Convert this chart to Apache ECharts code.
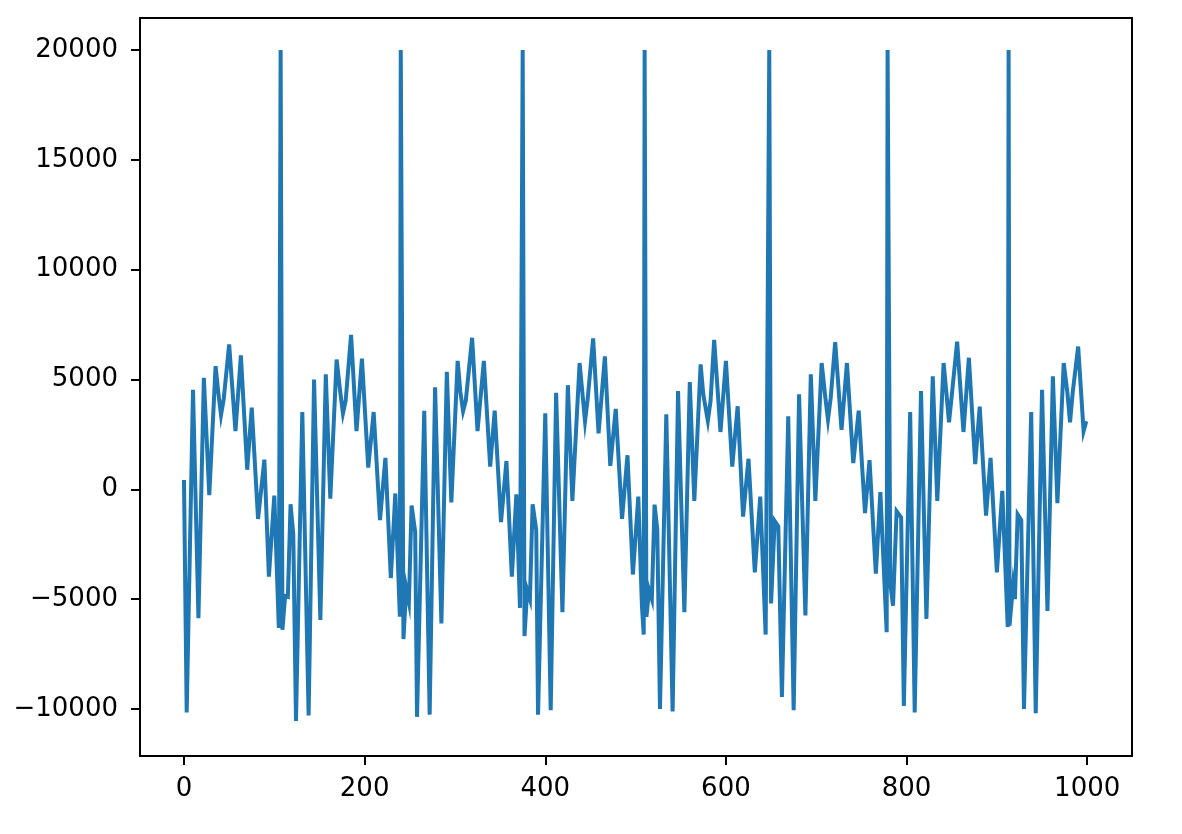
<!DOCTYPE html>
<html>
<head>
<meta charset="utf-8">
<script src="https://cdn.jsdelivr.net/npm/echarts@6/dist/echarts.min.js"></script>
<style>
  html, body { margin: 0; padding: 0; background: #fff; }
  #chart { width: 1182px; height: 834px; }
</style>
</head>
<body>
<div id="chart"></div>
<script>
// sample index and signal value (turning points of the trace)
var sampleX = [
  0, 3, 10, 16, 22, 28, 35, 38, 41, 44, 50, 57, 63, 70, 75, 82, 89, 94, 100, 105, 107, 109, 112, 115, 118, 121,
  124, 131, 138, 144, 151, 157, 162, 169, 173, 176, 179, 185, 191, 197, 204, 210, 217, 223, 229, 234, 239, 240, 241, 243, 246, 249, 252, 256,
  258, 266, 272, 278, 285, 291, 296, 303, 306, 309, 312, 319, 325, 332, 339, 344, 351, 357, 363, 368, 372, 375, 377, 380, 383, 386, 390,
  392, 400, 406, 412, 419, 425, 430, 438, 441, 444, 447, 453, 459, 466, 472, 478, 485, 491, 497, 503, 507, 509, 510, 511, 512, 515, 518, 521, 524,
  527, 534, 541, 547, 554, 560, 565, 572, 575, 580, 583, 587, 594, 600, 607, 613, 619, 625, 632, 638, 644, 648, 650, 654, 658,
  662, 669, 675, 681, 688, 694, 699, 706, 710, 713, 716, 721, 728, 734, 741, 747, 754, 759, 766, 771, 778, 779, 782, 785, 789, 794,
  797, 804, 809, 816, 822, 829, 834, 841, 844, 847, 850, 856, 863, 869, 876, 881, 888, 893, 900, 906, 912, 913, 914, 918, 920, 923, 927,
  930, 938, 943, 950, 956, 962, 967, 974, 978, 981, 984, 990, 996, 999
];
var sampleY = [
  420, -10160, 4530, -5870, 5080, -270, 5610, 4400, 3380, 4110, 6600, 2650, 6100, 890, 3720, -1350, 1350, -3980, -290, -6310, 20000, -6400, -4850, -4890, -680, -2050,
  -10550, 3520, -10300, 5000, -5950, 5240, -430, 5910, 4430, 3460, 4030, 7030, 2650, 5950, 990, 3520, -1400, 1430, -4040, -190, -5800, 20000, 20000, -6820, -4490, -5140, -740, -1950,
  -10360, 3580, -10260, 4640, -6110, 5350, -600, 5850, 4430, 3560, 4030, 6900, 2650, 5850, 1030, 3580, -1490, 1290, -3980, -230, -5400, 20000, -6680, -4590, -5000, -680, -1850,
  -10260, 3460, -10060, 4390, -5600, 4740, -530, 5750, 4430, 3100, 4130, 6870, 2550, 6050, 1070, 3660, -1350, 1550, -3880, -330, -5300, -6615, 20000, 20000, -5800, -4590, -5000, -700, -1810,
  -10000, 3420, -10120, 4470, -5600, 4880, -530, 5690, 4300, 3115, 4030, 6800, 2610, 5850, 1030, 3780, -1240, 1390, -3780, -330, -6615, 20000, -5200, -1445, -1690,
  -9450, 3320, -10060, 4330, -5740, 5240, -530, 5750, 4200, 3180, 4150, 6700, 2710, 5750, 1190, 3580, -1080, 1330, -3840, -130, -6510, 20000, -4290, -5300, -1000, -1280,
  -9860, 3520, -10160, 4470, -5900, 5140, -530, 5750, 4450, 3050, 4250, 6720, 2610, 5990, 1150, 3760, -1200, 1430, -3780, -70, -6270, 20000, -6210, -4330, -5000, -1140, -1400,
  -10000, 3520, -10200, 4530, -5540, 5140, -630, 5750, 4430, 3050, 4430, 6500, 2650, 3100
];
var xTicks = [0, 200, 400, 600, 800, 1000];
var yTicks = [-10000, -5000, 0, 5000, 10000, 15000, 20000];

var points = sampleX.map(function (x, i) { return [x, sampleY[i]]; });

var chart = echarts.init(document.getElementById('chart'));
var labelFont = { fontFamily: 'DejaVu Sans', fontSize: 26, color: '#000' };

chart.setOption({
  animation: false,
  backgroundColor: '#fff',
  grid: {
    left: 140, right: 50, top: 18, bottom: 78,
    show: true, borderColor: '#000', borderWidth: 2, backgroundColor: 'transparent'
  },
  xAxis: {
    type: 'value',
    min: -48.7,
    max: 1049.6,
    axisLine: { show: false, onZero: false },
    splitLine: { show: false },
    axisTick: { show: true, length: 9, customValues: xTicks, lineStyle: { color: '#000', width: 2 } },
    axisLabel: Object.assign({
      margin: 20,
      customValues: xTicks,
      formatter: function (v) { return String(v); }
    }, labelFont)
  },
  yAxis: {
    type: 'value',
    min: -12143,
    max: 21459,
    axisLine: { show: false, onZero: false },
    splitLine: { show: false },
    axisTick: { show: true, length: 9, customValues: yTicks, lineStyle: { color: '#000', width: 2 } },
    axisLabel: Object.assign({
      margin: 22,
      customValues: yTicks,
      formatter: function (v) { return v < 0 ? '\u2212' + Math.abs(v) : String(v); }
    }, labelFont)
  },
  series: [{
    type: 'line',
    data: points,
    showSymbol: false,
    clip: true,
    lineStyle: { color: '#1f77b4', width: 4, join: 'miter' }
  }]
});
</script>
</body>
</html>
